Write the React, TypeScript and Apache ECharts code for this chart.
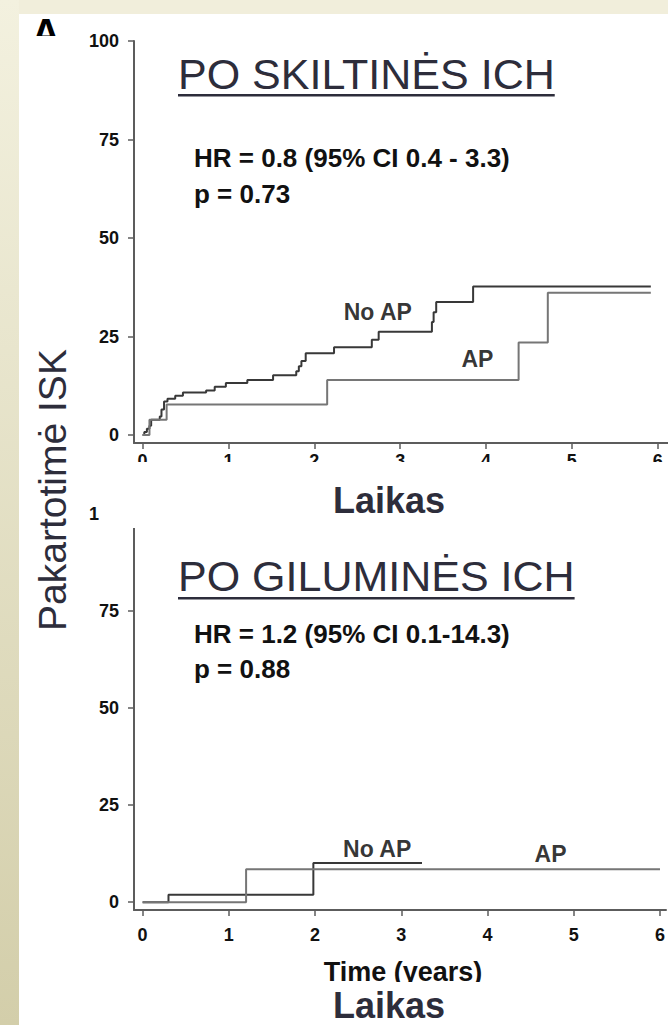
import React, { useEffect, useRef } from "react";
import * as echarts from "echarts";

const FONT = '"Liberation Sans", Arial, Helvetica, sans-serif';

const xTicks = [0, 1, 2, 3, 4, 5, 6];
const yTicks = [0, 25, 50, 75, 100];

// Top panel: lobar ICH (cumulative recurrence, %)
const topNoApTime = [0, 0.02, 0.05, 0.08, 0.1, 0.2, 0.22, 0.25, 0.29, 0.38, 0.47, 0.74, 0.84, 0.97, 1.22, 1.52, 1.79, 1.82, 1.85, 1.9, 2.23, 2.67, 2.75, 3.37, 3.39, 3.42, 3.85, 5.92];
const topNoApValue = [0, 0.8, 1.6, 2.4, 3.9, 4.7, 6.5, 8.5, 9.2, 10.0, 10.8, 11.3, 12.3, 13.2, 14.0, 15.2, 16.2, 17.5, 18.8, 20.8, 22.3, 24.2, 26.2, 28.7, 31.2, 33.8, 37.7, 37.7];
const topApTime = [0, 0.08, 0.28, 2.15, 4.38, 4.72, 5.92];
const topApValue = [0, 3.9, 7.75, 14.0, 23.5, 36.1, 36.1];

// Bottom panel: deep ICH
const botNoApTime = [0, 0.3, 1.98, 3.24];
const botNoApValue = [0, 1.9, 10.1, 10.1];
const botApTime = [0, 1.2, 6.0];
const botApValue = [0, 8.5, 8.5];

const topLabels = [
  { name: "No AP", x: 2.74, y: 31.3 },
  { name: "AP", x: 3.9, y: 19.2 },
];
const botLabels = [
  { name: "No AP", x: 2.72, y: 13.6 },
  { name: "AP", x: 4.73, y: 12.4 },
];

const topTitle = "PO SKILTINĖS ICH";
const botTitle = "PO GILUMINĖS ICH";
const topStats = ["HR = 0.8 (95% CI 0.4 - 3.3)", "p = 0.73"];
const botStats = ["HR = 1.2 (95% CI 0.1-14.3)", "p = 0.88"];
const yName = "Pakartotimė ISK";
const xName = "Laikas";
const xSubName = "Time (years)";
const panelLetter = "A";

const zip = (t: number[], v: number[]) => t.map((x, i) => [x, v[i]]);

function measure(text: string, font: string): number {
  const c = document.createElement("canvas").getContext("2d");
  if (!c) return text.length * 20;
  c.font = font;
  return c.measureText(text).width;
}

const AXIS_COLOR = "#5c5c5c";
const TITLE_COLOR = "#2d2d3b";

function xAxis(gridIndex: number, max: number, margin: number) {
  return {
    type: "value",
    gridIndex,
    min: -0.1,
    max,
    axisLine: { show: true, onZero: false, lineStyle: { color: AXIS_COLOR, width: 2 } },
    axisTick: { show: true, customValues: xTicks, length: 6, lineStyle: { color: AXIS_COLOR, width: 1.5 } },
    axisLabel: { customValues: xTicks, color: "#111", fontWeight: "bold", fontSize: 18, fontFamily: FONT, margin },
    splitLine: { show: false },
  };
}

function yAxis(gridIndex: number) {
  return {
    type: "value",
    gridIndex,
    min: -2,
    max: 100,
    axisLine: { show: true, onZero: false, lineStyle: { color: AXIS_COLOR, width: 2 } },
    axisTick: { show: true, customValues: yTicks, length: 6, lineStyle: { color: AXIS_COLOR, width: 1.5 } },
    axisLabel: { customValues: yTicks, color: "#111", fontWeight: "bold", fontSize: 18, fontFamily: FONT, margin: 15 },
    splitLine: { show: false },
  };
}

function lineSeries(xi: number, data: number[][], color: string) {
  return {
    type: "line",
    xAxisIndex: xi,
    yAxisIndex: xi,
    step: "end",
    symbol: "none",
    data,
    lineStyle: { color, width: 2 },
    z: 3,
  };
}

function labelSeries(xi: number, labels: { name: string; x: number; y: number }[]) {
  return {
    type: "scatter",
    xAxisIndex: xi,
    yAxisIndex: xi,
    symbolSize: 1,
    itemStyle: { color: "rgba(0,0,0,0)" },
    silent: true,
    data: labels.map((l) => ({ value: [l.x, l.y], label: { formatter: l.name } })),
    label: { show: true, position: "inside", color: "#000", fontWeight: "bold", fontSize: 23, fontFamily: FONT },
    z: 4,
  };
}

export default function App() {
  const ref = useRef<HTMLDivElement>(null);

  useEffect(() => {
    if (!ref.current) return;
    const chart = echarts.init(ref.current, null, { renderer: "svg" });

    const titleFont = `43px ${FONT}`;
    const topTitleW = measure(topTitle, titleFont);
    const botTitleW = measure(botTitle, titleFont);
    const statFont = `bold 26px ${FONT}`;

    const graphic: any[] = [
      { type: "rect", z: 1, shape: { x: 0, y: 0, width: 668, height: 14 }, style: { fill: "#f1eedb" } },
      {
        type: "rect",
        z: 1,
        shape: { x: 0, y: 0, width: 19, height: 1025 },
        style: {
          fill: new echarts.graphic.LinearGradient(0, 0, 0, 1, [
            { offset: 0, color: "#f3f1df" },
            { offset: 1, color: "#d3ceaa" },
          ]),
        },
      },
      { type: "text", z: 5, x: 46, y: 33, style: { text: panelLetter, font: `bold 40px ${FONT}`, fill: "#000", align: "center", verticalAlign: "middle" } },
      { type: "rect", z: 6, shape: { x: 20, y: 36, width: 50, height: 20 }, style: { fill: "#fff" } },
      // mask clipping the upper panel's tick labels (and the lower panel's "100")
      { type: "rect", z: 100, shape: { x: 99, y: 462, width: 569, height: 66 }, style: { fill: "#fff" } },
      // mask clipping the bottom "Time (years)"
      { type: "rect", z: 100, shape: { x: 280, y: 982, width: 240, height: 8 }, style: { fill: "#fff" } },
      // titles
      { type: "text", z: 110, x: 178, y: 74, style: { text: topTitle, font: titleFont, fill: TITLE_COLOR, verticalAlign: "middle" } },
      { type: "rect", z: 110, shape: { x: 178, y: 94, width: topTitleW, height: 2.5 }, style: { fill: TITLE_COLOR } },
      { type: "text", z: 110, x: 178, y: 576, style: { text: botTitle, font: titleFont, fill: TITLE_COLOR, verticalAlign: "middle" } },
      { type: "rect", z: 110, shape: { x: 178, y: 597, width: botTitleW, height: 2.5 }, style: { fill: TITLE_COLOR } },
      // stats
      { type: "text", z: 110, x: 194, y: 158, style: { text: topStats[0], font: statFont, fill: "#111", verticalAlign: "middle" } },
      { type: "text", z: 110, x: 194, y: 194, style: { text: topStats[1], font: statFont, fill: "#111", verticalAlign: "middle" } },
      { type: "text", z: 110, x: 194, y: 634, style: { text: botStats[0], font: statFont, fill: "#111", verticalAlign: "middle" } },
      { type: "text", z: 110, x: 194, y: 669, style: { text: botStats[1], font: statFont, fill: "#111", verticalAlign: "middle" } },
      // axis names
      { type: "text", z: 110, x: 389, y: 500, style: { text: xName, font: `bold 36px ${FONT}`, fill: TITLE_COLOR, align: "center", verticalAlign: "middle" } },
      { type: "text", z: 110, x: 389, y: 1005, style: { text: xName, font: `bold 36px ${FONT}`, fill: TITLE_COLOR, align: "center", verticalAlign: "middle" } },
      { type: "text", z: 90, x: 403, y: 972, style: { text: xSubName, font: `bold 27px ${FONT}`, fill: "#111", align: "center", verticalAlign: "middle" } },
      {
        type: "text",
        z: 110,
        x: 52,
        y: 490,
        rotation: Math.PI / 2,
        style: { text: yName, font: `39px ${FONT}`, fill: TITLE_COLOR, align: "center", verticalAlign: "middle" },
      },
    ];

    const option: any = {
      animation: false,
      backgroundColor: "#ffffff",
      textStyle: { fontFamily: FONT },
      grid: [
        { left: 134, right: 0, top: 41, height: 402 },
        { left: 134, right: 0, top: 514, height: 396 },
      ],
      xAxis: [xAxis(0, 6.12, 9), xAxis(1, 6.07, 16)],
      yAxis: [yAxis(0), yAxis(1)],
      series: [
        lineSeries(0, zip(topNoApTime, topNoApValue), "#383838"),
        lineSeries(0, zip(topApTime, topApValue), "#767676"),
        lineSeries(1, zip(botNoApTime, botNoApValue), "#383838"),
        lineSeries(1, zip(botApTime, botApValue), "#767676"),
        labelSeries(0, topLabels),
        labelSeries(1, botLabels),
      ],
      graphic,
    };

    chart.setOption(option);
    return () => chart.dispose();
  }, []);

  return (
    <div
      ref={ref}
      style={{ position: "absolute", left: 0, top: 0, width: 668, height: 1025, overflow: "hidden" }}
    />
  );
}
